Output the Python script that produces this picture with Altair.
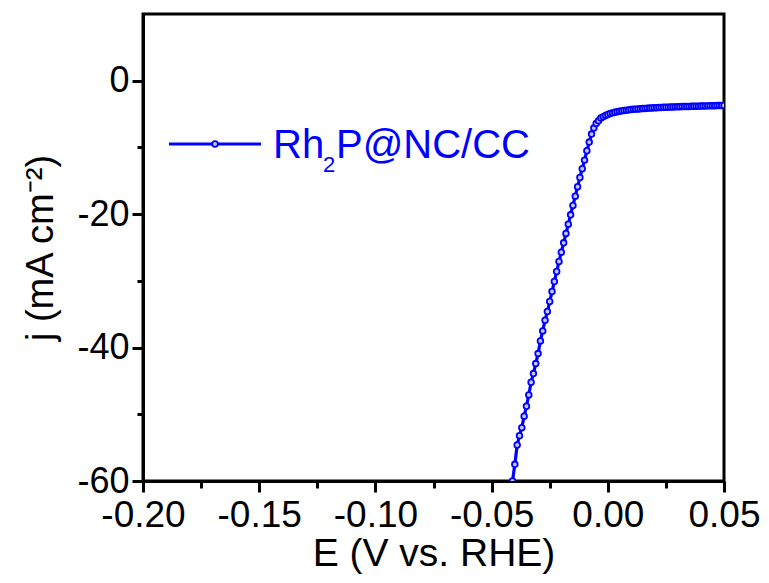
import altair as alt
import pandas as pd

E = [-0.041, -0.040, -0.039, -0.038, -0.037, -0.036, -0.035, -0.034, -0.033, -0.032,
     -0.031, -0.030, -0.029, -0.028, -0.027, -0.026, -0.025, -0.024, -0.023, -0.022,
     -0.021, -0.020, -0.019, -0.018, -0.017, -0.016, -0.015, -0.014, -0.013, -0.012,
     -0.011, -0.010, -0.009, -0.008, -0.007, -0.006, -0.005, -0.004, -0.003, -0.002,
     -0.001, 0.000, 0.001, 0.002, 0.003, 0.004, 0.005, 0.006, 0.007, 0.008,
     0.009, 0.010, 0.011, 0.012, 0.013, 0.014, 0.015, 0.016, 0.017, 0.018,
     0.019, 0.020, 0.021, 0.022, 0.023, 0.024, 0.025, 0.026, 0.027, 0.028,
     0.029, 0.030, 0.031, 0.032, 0.033, 0.034, 0.035, 0.036, 0.037, 0.038,
     0.039, 0.040, 0.041, 0.042, 0.043, 0.044, 0.045, 0.046, 0.047, 0.048,
     0.049, 0.050]
J = [-60.0, -57.5, -54.6, -53.2, -52.0, -50.3, -48.8, -47.1, -45.2, -43.9,
     -42.4, -40.9, -39.0, -37.5, -35.9, -34.6, -33.1, -31.6, -30.1, -28.6,
     -27.1, -25.7, -24.3, -22.9, -21.5, -20.1, -18.7, -17.3, -15.9, -14.5,
     -13.2, -11.9, -10.5, -9.2, -8.0, -7.1, -6.4, -6.0, -5.6, -5.4,
     -5.2, -5.05, -4.92, -4.82, -4.73, -4.65, -4.58, -4.52, -4.46, -4.41,
     -4.37, -4.33, -4.29, -4.26, -4.23, -4.20, -4.17, -4.15, -4.12, -4.10,
     -4.08, -4.06, -4.04, -4.02, -4.00, -3.99, -3.97, -3.96, -3.94, -3.93,
     -3.92, -3.90, -3.89, -3.88, -3.87, -3.86, -3.85, -3.84, -3.83, -3.82,
     -3.81, -3.80, -3.79, -3.78, -3.77, -3.76, -3.75, -3.74, -3.73, -3.72,
     -3.71, -3.70]
x_ticks = [-0.2, -0.175, -0.15, -0.125, -0.1, -0.075, -0.05, -0.025, 0.0, 0.025, 0.05]
y_ticks = [-60, -50, -40, -30, -20, -10, 0]
legend_parts = ["Rh", "2", "P@NC/CC"]

df = pd.DataFrame({"E": E, "J": J})
BLUE = "#0000ff"
MFILL = "#c8c8ff"
FONT = "Liberation Sans"
MINUS = "\u2212"

xmaj = "abs(round(datum.value*1000)) % 50 == 0"
ymaj = "datum.value % 20 == 0"

common = dict(grid=False, domainWidth=3, tickWidth=3, domainColor="black",
              tickColor="black", labelColor="black", titleColor="black",
              labelFont=FONT, titleFont=FONT, titleFontWeight="normal",
              labelOverlap=False, labelFlush=False)

x_axis = alt.Axis(
    values=x_ticks, title="E (V vs. RHE)",
    labelExpr=f"{xmaj} ? replace(format(datum.value, '.2f'), '{MINUS}', '-') : ''",
    tickSize={"condition": {"test": xmaj, "value": 11}, "value": 7},
    labelFontSize=37, titleFontSize=39, labelPadding=5, titlePadding=1,
    **common)
y_axis = alt.Axis(
    values=y_ticks, title="j (mA cm\u207b\u00b2)",
    labelExpr=f"{ymaj} ? replace(format(datum.value, 'd'), '{MINUS}', '-') : ''",
    tickSize={"condition": {"test": ymaj, "value": 11}, "value": 6},
    labelFontSize=36, titleFontSize=38, labelPadding=3, titlePadding=16,
    **common)

xs = alt.Scale(domain=[-0.20, 0.05], nice=False, zero=False)
ys = alt.Scale(domain=[-60, 10], nice=False, zero=False)

base = alt.Chart(df)
line = base.mark_line(color=BLUE, strokeWidth=3.2, clip=True).encode(
    x=alt.X("E:Q", scale=xs, axis=x_axis),
    y=alt.Y("J:Q", scale=ys, axis=y_axis),
)
pts = base.mark_point(shape="circle", filled=True, fill=MFILL, stroke=BLUE,
                      strokeWidth=1.8, size=32, opacity=1, clip=True).encode(
    x=alt.X("E:Q", scale=xs),
    y=alt.Y("J:Q", scale=ys),
)

lg = alt.Chart(pd.DataFrame({"t": [legend_parts[0]]}))
leg_line = lg.mark_rule(color=BLUE, strokeWidth=3).encode(
    x=alt.value(26), x2=alt.value(118), y=alt.value(130))
leg_pt = lg.mark_point(shape="circle", filled=True, fill=MFILL, stroke=BLUE,
                       strokeWidth=1.8, size=32, opacity=1).encode(
    x=alt.value(72), y=alt.value(130))
t1 = alt.Chart(pd.DataFrame({"t": [legend_parts[0]]})).mark_text(
    font=FONT, fontSize=40, color=BLUE, align="left", baseline="alphabetic").encode(
    x=alt.value(130), y=alt.value(144), text="t:N")
t2 = alt.Chart(pd.DataFrame({"t": [legend_parts[1]]})).mark_text(
    font=FONT, fontSize=22, color=BLUE, align="left", baseline="alphabetic").encode(
    x=alt.value(180), y=alt.value(158), text="t:N")
t3 = alt.Chart(pd.DataFrame({"t": [legend_parts[2]]})).mark_text(
    font=FONT, fontSize=40, color=BLUE, align="left", baseline="alphabetic").encode(
    x=alt.value(193), y=alt.value(144), text="t:N")

chart = alt.layer(line, pts, leg_line, leg_pt, t1, t2, t3).properties(
    width=581, height=467,
    autosize=alt.AutoSizeParams(type="none"),
    padding={"left": 135, "top": 6, "right": 37, "bottom": 96},
    background="white",
).configure_view(stroke="black", strokeWidth=3)

chart.save("out.html", embed_options={"renderer": "svg", "actions": False})
